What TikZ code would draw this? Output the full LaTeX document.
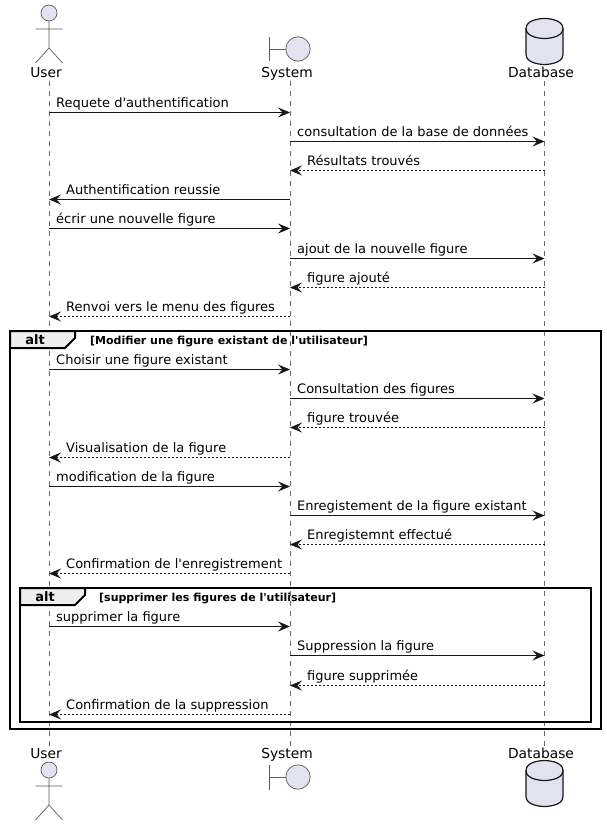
\documentclass[tikz,border=0pt]{standalone}
\usepackage{fontspec}
\newfontfamily\djv{DejaVu Sans}
\usetikzlibrary{arrows.meta}
\definecolor{ink}{HTML}{181818}
\definecolor{part}{HTML}{E2E2F0}
\definecolor{tabfill}{HTML}{EEEEEE}
\tikzset{
  x=1pt,y=-1pt,
  pname/.style={inner sep=0pt,anchor=base,font=\djv\fontsize{13.8}{16}\selectfont,text height=11pt,text depth=3pt,text=black},
  life/.style={draw=ink!65,line width=0.6pt,dash pattern=on 5pt off 5pt},
  glyph/.style={draw=ink!70,line width=0.7pt,fill=part},
  glyphline/.style={draw=ink!70,line width=0.7pt},
  dbshape/.style={draw=ink,line width=1.2pt,fill=part},
  call/.style={draw=ink,line width=1pt,-{Stealth[length=12pt,width=10pt,inset=4.5pt]}},
  reply/.style={draw=ink,line width=0.8pt,dash pattern=on 2pt off 2pt,-{Stealth[length=12pt,width=10pt,inset=4.5pt,fill=ink]}},
  msg/.style={inner sep=0pt,anchor=base west,font=\djv\fontsize{13}{15}\selectfont,text=black},
  frm/.style={draw=black,line width=2pt},
  tabshape/.style={draw=black,line width=2pt,fill=tabfill,line join=round},
  altlab/.style={inner sep=0pt,anchor=base,font=\djv\bfseries\fontsize{13}{15}\selectfont,text=black},
  guardlab/.style={inner sep=0pt,anchor=base west,font=\djv\bfseries\fontsize{11}{13}\selectfont,text=black},
}
% #1 from, #2 to, #3 y, #4 style, #5 text x, #6 text, #7 id
\newcommand{\seqmsg}[7]{%
  \coordinate (a#7) at (#1 |- 0,#3);
  \coordinate (b#7) at (#2 |- 0,#3);
  \draw[#4] (a#7) -- (b#7);
  \node[msg] (t#7) at (#5,#3-5) {#6};
}
\newcommand{\stick}[2]{% x, y of head centre
  \draw[glyph] (#1,#2) circle[radius=8];
  \draw[glyphline] (#1,#2+8) -- (#1,#2+35) (#1-13.5,#2+16) -- (#1+13.5,#2+16)
     (#1-13.5,#2+50) -- (#1,#2+35) -- (#1+13.5,#2+50);
}
\newcommand{\boundary}[2]{% x, y of circle centre
  \draw[glyph] (#1,#2) circle[radius=12.2];
  \draw[glyphline] (#1-28.5,#2-12.2) -- (#1-28.5,#2+12.5) (#1-28.5,#2) -- (#1-12.2,#2);
}
\newcommand{\dbcyl}[1]{% top y
  \begin{scope}[yshift=-#1pt]
  \draw[dbshape] (526,10) .. controls (526,0) and (544.5,0) .. (544.5,0)
    .. controls (544.5,0) and (563,0) .. (563,10) -- (563,36)
    .. controls (563,46) and (544.5,46) .. (544.5,46)
    .. controls (544.5,46) and (526,46) .. (526,36) -- cycle;
  \draw[draw=ink,line width=1.2pt] (526,10) .. controls (526,20) and (544.5,20) .. (544.5,20)
    .. controls (544.5,20) and (563,20) .. (563,10);
  \end{scope}
}
\begin{document}
\begin{tikzpicture}
\useasboundingbox (0,0) rectangle (606,826);
\fill[white] (0,0) rectangle (606,826);
% participants
\node[pname] (user) at (46,78) {User};
\node[pname] (system) at (287,78) {System};
\node[pname] (database) at (541,78) {Database};
\node[pname] (userB) at (46,758) {User};
\node[pname] (systemB) at (287,758) {System};
\node[pname] (databaseB) at (541,758) {Database};
% lifeline ends
\coordinate (lu) at (49,81);
\coordinate (ls) at (290,81);
\coordinate (ld) at (544.5,81);
\coordinate (luB) at (49,746);
\coordinate (lsB) at (290,746);
\coordinate (ldB) at (544.5,746);
\draw[life] (lu) -- (luB);
\draw[life] (ls) -- (lsB);
\draw[life] (ld) -- (ldB);
% glyphs
\stick{49}{13}
\stick{49}{770}
\boundary{298}{49}
\boundary{298}{777}
\dbcyl{18.5}
\dbcyl{760.5}
% frames
\draw[frm] (10,331) rectangle (601,729);
\draw[tabshape] (10,331) -- (75,331) -- (75,338) -- (65,348) -- (10,348) -- cycle;
\node[altlab] (alt1) at (35,344) {alt};
\node[guardlab] (guard1) at (90,344) {[Modifier une figure existant de l'utilisateur]};
\draw[frm] (20,588) rectangle (591,722);
\draw[tabshape] (20,588) -- (85,588) -- (85,595) -- (75,605) -- (20,605) -- cycle;
\node[altlab] (alt2) at (45,601) {alt};
\node[guardlab] (guard2) at (99,601) {[supprimer les figures de l'utilisateur]};
% messages
\seqmsg{lu}{ls}{112.5}{call}{56}{Requete d'authentification}{1}
\seqmsg{ls}{ld}{141.5}{call}{297}{consultation de la base de données}{2}
\seqmsg{ld}{ls}{170.5}{reply}{307}{Résultats trouvés}{3}
\seqmsg{ls}{lu}{199.5}{call}{66}{Authentification reussie}{4}
\seqmsg{lu}{ls}{228.5}{call}{56}{écrir une nouvelle figure}{5}
\seqmsg{ls}{ld}{258.5}{call}{297}{ajout de la nouvelle figure}{6}
\seqmsg{ld}{ls}{287.5}{reply}{307}{figure ajouté}{7}
\seqmsg{ls}{lu}{316.5}{reply}{66}{Renvoi vers le menu des figures}{8}
\seqmsg{lu}{ls}{369.5}{call}{56}{Choisir une figure existant}{9}
\seqmsg{ls}{ld}{398.5}{call}{297}{Consultation des figures}{10}
\seqmsg{ld}{ls}{427.5}{reply}{307}{figure trouvée}{11}
\seqmsg{ls}{lu}{457.5}{reply}{66}{Visualisation de la figure}{12}
\seqmsg{lu}{ls}{486.5}{call}{56}{modification de la figure}{13}
\seqmsg{ls}{ld}{515.5}{call}{297}{Enregistement de la figure existant}{14}
\seqmsg{ld}{ls}{544.5}{reply}{307}{Enregistemnt effectué}{15}
\seqmsg{ls}{lu}{573.5}{reply}{66}{Confirmation de l'enregistrement}{16}
\seqmsg{lu}{ls}{626.5}{call}{56}{supprimer la figure}{17}
\seqmsg{ls}{ld}{655.5}{call}{297}{Suppression la figure}{18}
\seqmsg{ld}{ls}{685.5}{reply}{307}{figure supprimée}{19}
\seqmsg{ls}{lu}{714.5}{reply}{66}{Confirmation de la suppression}{20}
\end{tikzpicture}
\end{document}
